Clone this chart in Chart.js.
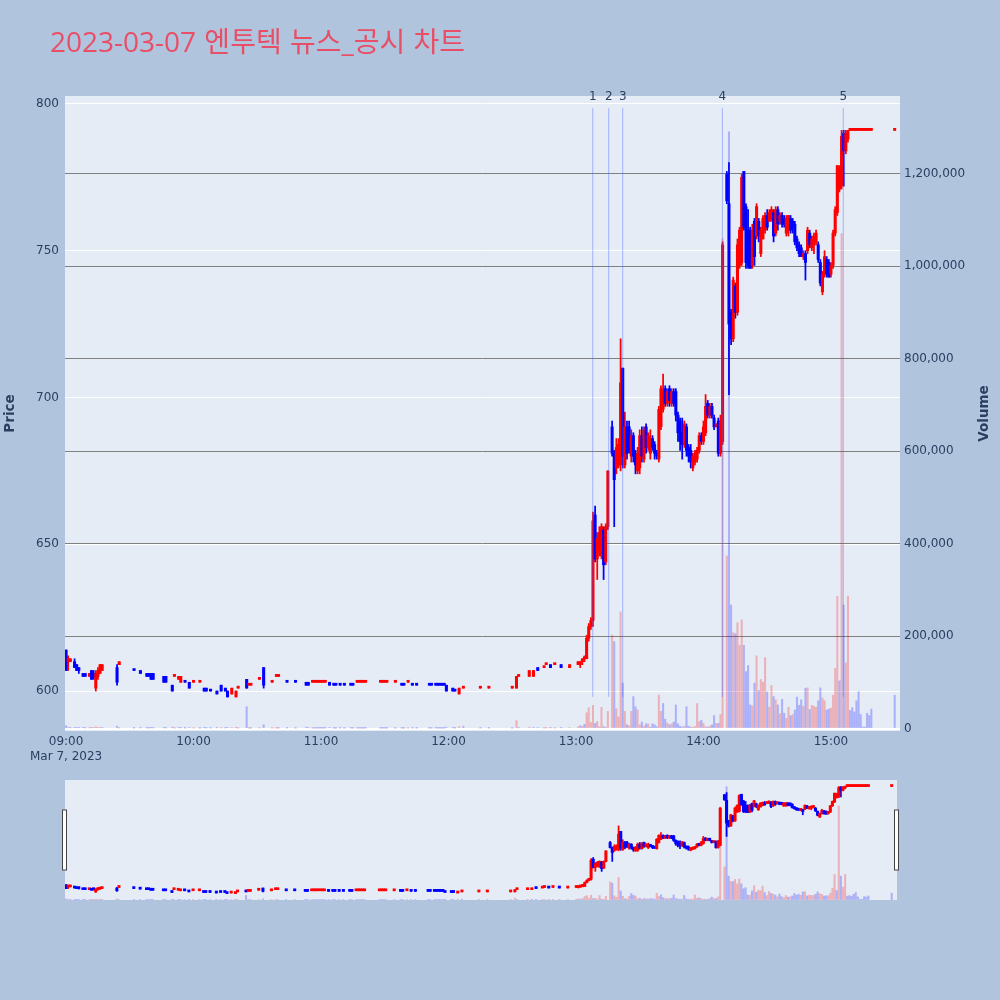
<!DOCTYPE html>
<html>
<head>
<meta charset="utf-8">
<script src="https://cdn.jsdelivr.net/npm/chart.js@4.4.1/dist/chart.umd.min.js"></script>
<style>
html, body { margin: 0; padding: 0; background: #b0c4de; }
#wrap { position: relative; width: 1000px; height: 1000px; overflow: hidden; }
#title { position: absolute; left: 50px; top: 23px; font-size: 28px; line-height: 36px; word-spacing: 1px;
  font-family: "Open Sans", "Noto Sans CJK KR", sans-serif; color: #e84f67; white-space: nowrap; }
#main { position: absolute; left: 0; top: 0; }
#slider { position: absolute; left: 55px; top: 775px; }
</style>
</head>
<body>
<div id="wrap">
<canvas id="main" width="1000" height="775"></canvas>
<canvas id="slider" width="852" height="130"></canvas>
<div id="title">2023-03-07 엔투텍 뉴스_공시 차트</div>
</div>
<script>
// 1분봉 데이터 (거래 없는 분은 빠져 있음)
var times = [
 '09:00','09:01','09:02','09:04','09:05','09:06','09:08','09:09','09:11','09:12','09:13','09:14','09:15','09:16','09:17',
 '09:24','09:25','09:32','09:35','09:38','09:39','09:40','09:41','09:46','09:47','09:50','09:51','09:53','09:54','09:56','09:58',
 '10:00','10:03','10:05','10:06','10:08','10:11','10:13','10:15','10:16','10:18','10:20','10:21','10:25','10:26','10:27',
 '10:31','10:33','10:37','10:39','10:40','10:44','10:48','10:53','10:54','10:56','10:57','10:58','10:59',
 '11:00','11:01','11:02','11:04','11:06','11:07','11:09','11:11','11:14','11:15','11:17','11:18','11:19','11:20','11:21',
 '11:28','11:29','11:30','11:31','11:35','11:38','11:39','11:41','11:43','11:45','11:51','11:52','11:54','11:55','11:56','11:57','11:58','11:59',
 '12:02','12:03','12:05','12:07','12:15','12:19','12:30','12:32','12:33','12:38','12:40','12:42','12:45','12:46','12:48','12:50','12:53','12:57',
 '13:01','13:02','13:03','13:04','13:05','13:06','13:07','13:08','13:09','13:10','13:11','13:12','13:13','13:14','13:15',
 '13:17','13:18','13:19','13:20','13:21','13:22','13:23','13:24','13:25','13:26','13:27','13:28','13:29','13:30',
 '13:31','13:32','13:33','13:34','13:35','13:36','13:37','13:38','13:39','13:40','13:41','13:42','13:43','13:44','13:45',
 '13:46','13:47','13:48','13:49','13:50','13:51','13:52','13:53','13:54','13:55','13:56','13:57','13:58','13:59',
 '14:00','14:01','14:02','14:03','14:04','14:05','14:06','14:07','14:08','14:09','14:11','14:12','14:13','14:14','14:15',
 '14:16','14:17','14:18','14:19','14:20','14:21','14:22','14:23','14:24','14:25','14:26','14:27','14:28','14:29','14:30',
 '14:31','14:32','14:33','14:34','14:35','14:36','14:37','14:38','14:39','14:40','14:41','14:42','14:43','14:44','14:45',
 '14:46','14:47','14:48','14:49','14:50','14:51','14:52','14:53','14:54','14:55','14:56','14:57','14:58','14:59',
 '15:00','15:01','15:02','15:03','15:04','15:05','15:06','15:07','15:08','15:09','15:10','15:11','15:12','15:13','15:14',
 '15:15','15:16','15:17','15:18','15:19','15:30'
];
var opens = [
 614,610,610,610,609,608,606,606,605,607,606,601,605,606,607,
 608,609,607,607,606,606,606,606,605,605,602,605,604,603,603,603,
 603,603,601,601,600,600,602,601,600,599,598,601,604,602,602,
 604,608,603,605,605,603,603,603,603,603,603,603,603,
 603,603,603,603,602,602,602,602,602,602,603,603,603,603,603,
 603,603,603,603,603,602,602,603,602,602,602,602,602,602,602,602,602,602,
 601,600,599,601,601,601,601,601,605,605,605,608,608,609,609,609,609,608,
 609,609,610,611,611,618,622,624,660,645,648,646,655,644,656,
 690,681,676,677,677,710,677,690,690,680,687,681,675,676,
 687,679,690,683,681,686,684,681,679,690,696,703,698,703,698,
 702,702,694,692,688,684,690,683,682,676,678,679,682,687,
 685,688,698,694,697,693,690,692,681,685,776,766,729,720,738,
 729,745,746,777,765,757,757,745,760,755,760,749,754,757,762,
 760,761,763,756,764,760,762,761,756,757,761,760,759,754,752,
 751,748,749,750,756,751,752,753,752,746,736,742,747,746,
 742,745,756,763,771,772,790,784,788,791,791,791,791,791,791,
 791,791,791,791,791,791
];
var highs = [
 614,612,611,611,609,608,606,606,606,607,607,607,608,609,609,
 609,610,607,607,606,606,606,606,605,605,602,605,605,605,603,603,
 603,603,601,601,600,600,602,601,600,601,600,601,604,602,602,
 604,608,603,605,605,603,603,603,603,603,603,603,603,
 603,603,603,603,602,602,602,602,602,602,603,603,603,603,603,
 603,603,603,603,603,602,602,603,602,602,602,602,602,602,602,602,602,602,
 601,600,601,601,601,601,601,605,605,607,607,608,608,609,609,609,609,609,
 610,610,611,612,619,623,625,661,663,654,656,657,656,657,675,
 692,682,686,686,720,710,695,692,692,689,688,682,683,689,
 690,690,691,688,689,687,685,682,697,704,708,704,703,704,703,
 703,703,695,693,693,692,691,684,684,681,682,683,688,688,
 692,701,699,698,698,694,691,693,694,753,777,780,730,741,739,
 754,758,776,777,766,764,758,759,761,766,761,758,762,763,764,
 764,765,764,765,765,763,763,762,762,762,762,761,760,755,753,
 752,750,750,758,757,755,756,757,753,747,743,750,748,747,
 746,757,765,779,779,791,791,791,791,791,791,791,791,791,791,
 791,791,791,791,791,791
];
var lows = [
 607,607,610,608,607,606,605,605,605,604,604,600,604,606,607,
 602,609,607,606,605,605,604,604,603,603,600,605,604,603,603,601,
 603,603,600,600,600,599,600,600,598,599,598,601,601,602,602,
 604,601,603,605,605,603,603,602,602,603,603,603,603,
 603,603,603,602,602,602,602,602,602,602,603,603,603,603,603,
 603,603,603,603,603,602,602,603,602,602,602,602,602,602,602,602,602,600,
 600,600,599,601,601,601,601,601,605,605,605,607,608,609,608,609,608,608,
 609,608,609,610,611,617,621,622,644,638,646,645,638,643,655,
 680,656,674,676,675,676,676,679,681,678,678,674,674,674,
 678,678,681,682,679,682,679,679,678,689,695,697,697,697,697,
 697,692,685,682,679,683,680,678,676,675,677,678,681,684,
 684,687,693,693,693,689,690,680,680,684,766,701,718,719,727,
 728,744,745,757,744,744,744,744,745,754,753,748,754,756,757,
 760,760,753,755,757,759,758,758,755,755,756,756,752,750,748,
 748,747,740,749,751,750,749,752,746,738,735,741,741,741,
 741,744,755,762,770,771,772,783,787,791,791,791,791,791,791,
 791,791,791,791,791,791
];
var closes = [
 607,611,611,608,607,607,605,605,606,604,605,606,607,609,609,
 603,610,607,606,605,605,604,604,603,603,600,605,605,605,603,601,
 603,603,600,600,600,599,600,600,598,601,600,601,601,602,602,
 604,602,603,605,605,603,603,602,602,603,603,603,603,
 603,603,603,602,602,602,602,602,602,602,603,603,603,603,603,
 603,603,603,603,603,602,602,603,602,602,602,602,602,602,602,602,602,600,
 600,600,601,601,601,601,601,605,605,607,607,607,608,609,608,609,608,609,
 610,610,611,611,618,622,624,658,645,652,654,656,643,656,675,
 681,672,683,684,705,680,690,681,682,687,680,677,681,687,
 680,689,683,687,686,683,681,680,696,703,702,698,702,699,702,
 698,694,688,685,684,691,682,680,678,680,681,682,687,685,
 690,697,694,697,694,690,691,681,692,752,767,725,720,740,729,
 752,757,775,758,746,745,744,757,748,765,755,757,761,762,758,
 763,764,755,764,759,762,759,759,761,762,757,758,753,751,749,
 748,749,746,757,752,754,755,756,747,739,742,748,742,741,
 745,756,764,779,778,789,784,790,791,791,791,791,791,791,791,
 791,791,791,791,791,791
];
var volumes = [
 6000,3000,1500,2500,2000,1500,2000,1200,1000,2500,1800,4000,2000,2500,1500,
 5000,800,800,1000,1000,800,1500,1200,1500,1000,3000,500,1500,1500,600,2000,
 500,600,1500,1000,800,1500,1000,1200,2000,1500,2500,500,47000,600,500,
 800,8000,500,500,600,900,500,3000,1500,600,500,700,500,
 600,500,800,1500,500,500,600,500,700,500,500,600,500,500,700,
 500,500,600,500,500,600,500,500,800,500,600,500,700,500,600,500,600,3000,
 1500,800,4000,5000,600,700,500,17000,1500,3000,2500,2000,800,1000,1500,800,1500,2000,
 4000,6000,5000,9000,34000,45000,13000,50000,11000,15000,4000,46000,4000,3000,37000,
 202000,188000,43000,25000,252000,98000,37000,8000,6000,37000,69000,47000,40000,8000,
 14000,5000,10000,10000,3000,10000,8000,4000,72000,37000,54000,20000,12000,8000,10000,
 14000,51000,10000,5000,3000,5000,47000,5000,3000,3000,4000,54000,15000,18000,
 11000,4000,3000,5000,8000,28000,11000,11000,30000,1060000,373000,1290000,267000,207000,205000,
 229000,180000,235000,180000,123000,136000,51000,49000,98000,157000,82000,106000,100000,153000,79000,
 46000,93000,69000,62000,51000,32000,63000,33000,22000,46000,28000,30000,40000,68000,50000,
 62000,48000,87000,88000,41000,50000,48000,46000,60000,88000,66000,60000,40000,42000,
 44000,72000,130000,286000,103000,1070000,267000,142000,286000,39000,45000,36000,60000,80000,30000,
 3000,3000,33000,28000,42000,72000
];

var priceTicks = [600, 650, 700, 750, 800];
var volumeTicks = [0, 200000, 400000, 600000, 800000, 1000000, 1200000];
var hourTicks = ['09:00', '10:00', '11:00', '12:00', '13:00', '14:00', '15:00'];
var dateLabel = 'Mar 7, 2023';
var newsTimes = ['13:07:54', '13:15:24', '13:22:00', '14:08:54', '15:05:48'];
var newsLabels = ['1', '2', '3', '4', '5'];

var priceMin = 586.4, priceMax = 802.7;
var volMin = -5400, volMax = 1367600;
var timeMin = -0.5, timeMax = 392.5;
var newsLineLow = 598, newsLineHigh = 798.6;

var FONT = '"DejaVu Sans", "Noto Sans CJK KR", sans-serif';
var TXT = '#2a3f5f';

function toMin(t) { // 09:00 기준 분
	var p = t.split(':');
	return (+p[0] - 9) * 60 + (+p[1]) + (p[2] ? +p[2] / 60 : 0);
}

// plotly 방식: 시가=종가이면 직전 종가와 비교
var candleColors = [], volumeColors = [];
(function () {
	var prevC = null, prevUp = true;
	for (var i = 0; i < times.length; i++) {
		var o = opens[i], c = closes[i], up;
		if (c > o) up = true;
		else if (c < o) up = false;
		else if (prevC !== null && c !== prevC) up = c > prevC;
		else up = prevUp;
		candleColors.push(up ? '#ff0000' : '#0000ff');
		var ref = prevC === null ? o : prevC;
		volumeColors.push(c > ref ? 'rgba(255,0,0,0.25)' : 'rgba(0,0,255,0.25)');
		prevC = c; prevUp = up;
	}
})();

function makeDatasets() {
	var body = [], wick = [], vol = [];
	for (var i = 0; i < times.length; i++) {
		var x = toMin(times[i]);
		body.push({ x: x, y: [opens[i], closes[i]] });
		wick.push({ x: x, y: [lows[i], highs[i]] });
		vol.push({ x: x, y: volumes[i] });
	}
	return [
		{ label: 'body', data: body, backgroundColor: candleColors, barThickness: 2.4, minBarLength: 2,
		  grouped: false, borderWidth: 0, yAxisID: 'y', order: 0 },
		{ label: 'wick', data: wick, backgroundColor: candleColors, barThickness: 1.1, minBarLength: 1,
		  grouped: false, borderWidth: 0, yAxisID: 'y', order: 1 },
		{ label: 'Volume', data: vol, backgroundColor: volumeColors, barThickness: 1.4,
		  grouped: false, borderWidth: 0, yAxisID: 'y1', order: 2 }
	];
}

var plotBg = {
	id: 'plotBg',
	beforeDraw: function (chart) {
		var a = chart.chartArea, ctx = chart.ctx;
		ctx.save();
		ctx.fillStyle = '#e5ecf6';
		ctx.fillRect(a.left, a.top, a.right - a.left, a.bottom - a.top);
		ctx.restore();
	}
};

var newsLines = {
	id: 'newsLines',
	afterDatasetsDraw: function (chart) {
		var ctx = chart.ctx, xs = chart.scales.x, ys = chart.scales.y;
		ctx.save();
		ctx.strokeStyle = 'rgba(60,90,255,0.4)';
		ctx.lineWidth = 1;
		ctx.fillStyle = TXT;
		ctx.font = '12px ' + FONT;
		ctx.textAlign = 'center';
		ctx.textBaseline = 'middle';
		for (var i = 0; i < newsTimes.length; i++) {
			var x = xs.getPixelForValue(toMin(newsTimes[i]));
			ctx.beginPath();
			ctx.moveTo(x, ys.getPixelForValue(newsLineHigh));
			ctx.lineTo(x, ys.getPixelForValue(newsLineLow));
			ctx.stroke();
			ctx.fillText(newsLabels[i], x, chart.chartArea.top + 1);
		}
		ctx.restore();
	}
};

var volTitle = {
	id: 'volTitle',
	afterDraw: function (chart) {
		var ctx = chart.ctx, a = chart.chartArea;
		ctx.save();
		ctx.translate(984, (a.top + a.bottom) / 2);
		ctx.rotate(-Math.PI / 2);
		ctx.fillStyle = TXT;
		ctx.font = 'bold 13.5px ' + FONT;
		ctx.textAlign = 'center';
		ctx.textBaseline = 'middle';
		ctx.fillText('Volume', 0, 0);
		ctx.restore();
	}
};

var mainChart = new Chart(document.getElementById('main').getContext('2d'), {
	type: 'bar',
	data: { datasets: makeDatasets() },
	options: {
		responsive: false,
		animation: false,
		layout: { padding: { top: 96 } },
		plugins: { legend: { display: false }, tooltip: { enabled: false } },
		scales: {
			x: {
				type: 'linear', min: timeMin, max: timeMax, offset: false,
				grid: { display: false, drawTicks: false }, border: { display: false },
				afterBuildTicks: function (s) { s.ticks = hourTicks.map(function (t) { return { value: toMin(t) }; }); },
				afterFit: function (s) { s.height = 44; },
				ticks: {
					autoSkip: false, maxRotation: 0, padding: 4, color: TXT,
					font: { family: FONT, size: 12 },
					callback: function (v, i) { return i === 0 ? [hourTicks[i], dateLabel] : hourTicks[i]; }
				}
			},
			y: {
				position: 'left', min: priceMin, max: priceMax,
				grid: { color: '#ffffff', lineWidth: 1, drawTicks: false }, border: { display: false },
				afterBuildTicks: function (s) { s.ticks = priceTicks.map(function (v) { return { value: v }; }); },
				afterFit: function (s) { s.width = 65; },
				ticks: { padding: 6, color: TXT, font: { family: FONT, size: 12 } },
				title: { display: true, text: 'Price', color: TXT, font: { family: FONT, size: 13.5, weight: 'bold' },
					padding: { top: 2, bottom: 0 } }
			},
			y1: {
				position: 'right', min: volMin, max: volMax,
				grid: {
					drawTicks: false,
					color: function (c) { return c.tick && c.tick.value === 0 ? '#ffffff' : '#808080'; },
					lineWidth: function (c) { return c.tick && c.tick.value === 0 ? 2 : 1; }
				},
				border: { display: false },
				afterBuildTicks: function (s) { s.ticks = volumeTicks.map(function (v) { return { value: v }; }); },
				afterFit: function (s) { s.width = 100; },
				ticks: {
					padding: 4, color: TXT, font: { family: FONT, size: 12 },
					callback: function (v) { return v.toLocaleString('en-US'); }
				}
			}
		}
	},
	plugins: [plotBg, newsLines, volTitle]
});

// 하단 레인지 슬라이더
var sliderHandles = {
	id: 'sliderHandles',
	afterDraw: function (chart) {
		var ctx = chart.ctx, a = chart.chartArea;
		var h = (a.bottom - a.top) / 2;
		ctx.save();
		ctx.fillStyle = '#ffffff';
		ctx.strokeStyle = '#444444';
		ctx.lineWidth = 1;
		[a.left - 0.5, a.right - 0.5].forEach(function (x) {
			ctx.fillRect(x - 2, a.top + h / 2, 4, h);
			ctx.strokeRect(x - 2, a.top + h / 2, 4, h);
		});
		ctx.restore();
	}
};

var sliderChart = new Chart(document.getElementById('slider').getContext('2d'), {
	type: 'bar',
	data: { datasets: makeDatasets() },
	options: {
		responsive: false,
		animation: false,
		layout: { padding: { left: 10, right: 10, top: 5, bottom: 5 } },
		plugins: { legend: { display: false }, tooltip: { enabled: false } },
		scales: {
			x: { type: 'linear', min: timeMin, max: timeMax, offset: false, display: false },
			y: { min: priceMin, max: priceMax, display: false },
			y1: { position: 'right', min: volMin, max: volMax, display: false }
		}
	},
	plugins: [plotBg, sliderHandles]
});
</script>
</body>
</html>
